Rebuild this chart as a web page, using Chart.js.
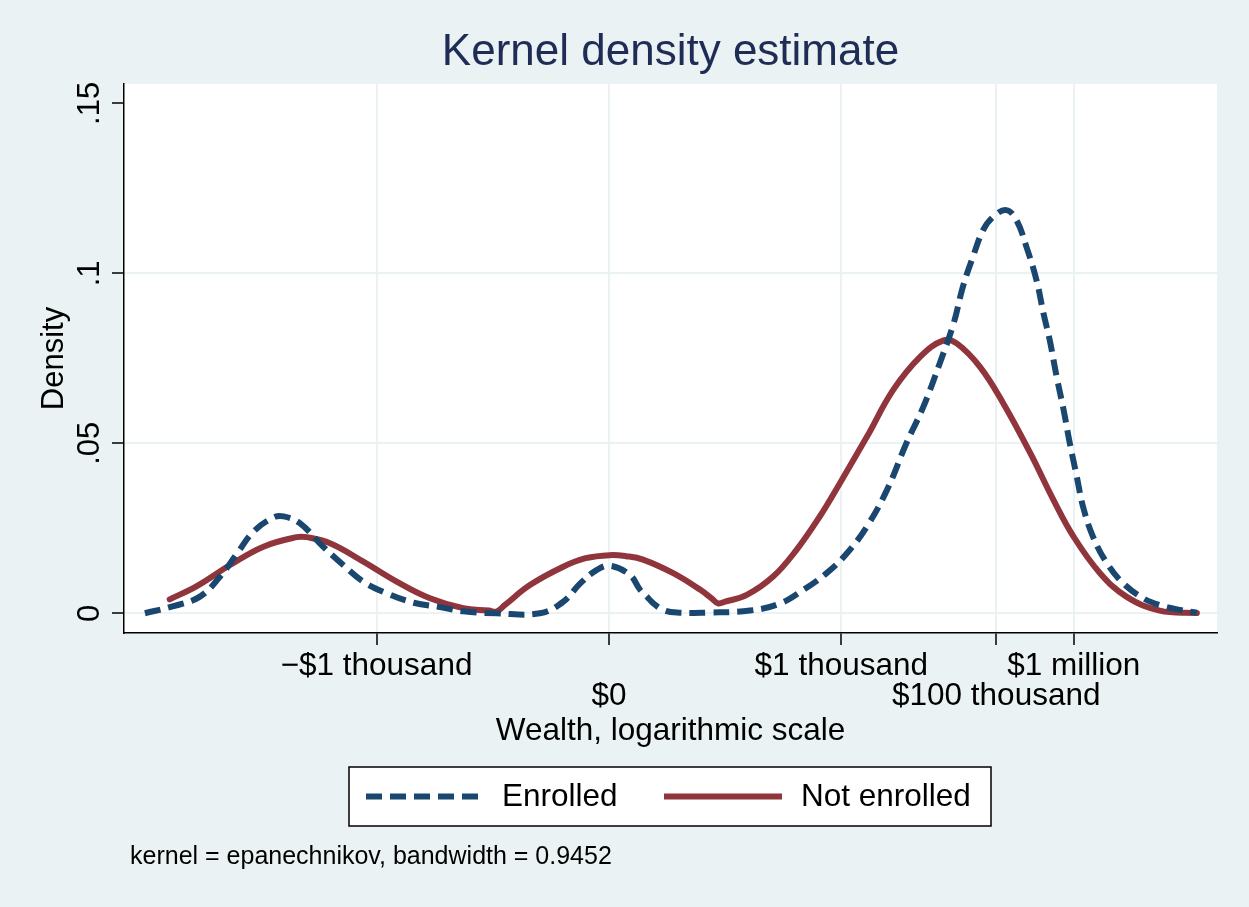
<!DOCTYPE html>
<html>
<head>
<meta charset="utf-8">
<script src="https://cdn.jsdelivr.net/npm/chart.js@4/dist/chart.umd.min.js"></script>
<style>
  html, body { margin: 0; padding: 0; background: #eaf2f3; }
  canvas { display: block; }
</style>
</head>
<body>
<canvas id="kd" width="1249" height="907"></canvas>
<script>
// Wealth on a signed log10 scale: -3 = -$1 thousand, 0 = $0, 3 = $1 thousand, ...
const wealthTicks = [-3, 0, 3, 5, 6];
const wealthTickLabels = ['\u2212$1 thousand', '$0', '$1 thousand', '$100 thousand', '$1 million'];
const densityTicks = [0, 0.05, 0.1, 0.15];
const densityTickLabels = ['0', '.05', '.1', '.15'];

// Kernel density, enrolled households
const enrolledX = [-5.99, -5.62, -5.28, -5.02, -4.80, -4.59, -4.33, -4.20, -3.99, -3.69,
  -3.43, -3.17, -2.87, -2.52, -2.18, -1.88, -1.45, -0.89, -0.59, -0.37,
  -0.16, 0.01, 0.27, 0.40, 0.49, 0.57, 0.70, 0.88, 1.26, 1.82,
  2.21, 2.51, 2.81, 3.07, 3.33, 3.59, 3.84, 4.06, 4.27, 4.45,
  4.57, 4.70, 4.83, 4.96, 5.13, 5.26, 5.39, 5.52, 5.61, 5.69,
  5.78, 5.87, 5.95, 6.04, 6.12, 6.25, 6.43, 6.64, 6.90, 7.11,
  7.37, 7.59];
const enrolledY = [0.0000, 0.0021, 0.0049, 0.0108, 0.0176, 0.0240, 0.0282, 0.0285, 0.0265, 0.0196,
  0.0142, 0.0093, 0.0059, 0.0031, 0.0018, 0.0006, 0.0000, 0.0000, 0.0034, 0.0088,
  0.0127, 0.0140, 0.0113, 0.0070, 0.0049, 0.0030, 0.0010, 0.0002, 0.0002, 0.0008,
  0.0029, 0.0069, 0.0118, 0.0176, 0.0255, 0.0363, 0.0500, 0.0608, 0.0735, 0.0853,
  0.0961, 0.1049, 0.1127, 0.1166, 0.1186, 0.1157, 0.1078, 0.0980, 0.0882, 0.0804,
  0.0696, 0.0598, 0.0500, 0.0402, 0.0314, 0.0225, 0.0147, 0.0088, 0.0044, 0.0024,
  0.0010, 0.0002];

// Kernel density, households not enrolled
const notEnrolledX = [-5.67, -5.32, -4.89, -4.46, -4.03, -3.90, -3.60, -3.17, -2.74, -2.31,
  -1.88, -1.55, -1.45, -1.35, -1.02, -0.59, -0.30, 0.01, 0.22, 0.44,
  0.83, 1.18, 1.33, 1.41, 1.50, 1.78, 2.12, 2.42, 2.72, 2.98,
  3.33, 3.67, 4.02, 4.32, 4.49, 4.79, 5.09, 5.44, 5.74, 6.00,
  6.34, 6.68, 7.11, 7.59];
const notEnrolledY = [0.0041, 0.0080, 0.0142, 0.0196, 0.0224, 0.0224, 0.0206, 0.0152, 0.0093, 0.0044,
  0.0015, 0.0008, 0.0005, 0.0023, 0.0083, 0.0137, 0.0162, 0.0171, 0.0168, 0.0158,
  0.0118, 0.0069, 0.0043, 0.0029, 0.0034, 0.0054, 0.0108, 0.0186, 0.0284, 0.0382,
  0.0519, 0.0657, 0.0755, 0.0803, 0.0794, 0.0725, 0.0618, 0.0471, 0.0333, 0.0225,
  0.0118, 0.0049, 0.0008, 0.0001];

const seriesNames = ['Enrolled', 'Not enrolled'];
const titleText = 'Kernel density estimate';
const xTitle = 'Wealth, logarithmic scale';
const yTitle = 'Density';
const noteText = 'kernel = epanechnikov, bandwidth = 0.9452';

const FONT = '"Liberation Sans", Arial, Helvetica, sans-serif';
const BG = '#eaf2f3';
const GRID = '#eaf2f3';
const NAVY = '#1a476f';
const MAROON = '#90353b';

const toPoints = (xs, ys) => xs.map((x, i) => ({ x: x, y: ys[i] }));

// Background, plot region and all free-standing text
const decorations = {
  id: 'decorations',
  beforeDraw(chart) {
    const { ctx, chartArea: a } = chart;
    ctx.save();
    ctx.fillStyle = BG;
    ctx.fillRect(0, 0, chart.width, chart.height);
    ctx.fillStyle = '#ffffff';
    ctx.fillRect(a.left, a.top, a.right - a.left, a.bottom - a.top);
    ctx.restore();
  },
  afterDraw(chart) {
    const { ctx, chartArea: a } = chart;
    const midX = (a.left + a.right) / 2;
    ctx.save();

    // title
    ctx.fillStyle = '#1f2c56';
    ctx.font = '44px ' + FONT;
    ctx.textAlign = 'center';
    ctx.textBaseline = 'alphabetic';
    ctx.fillText(titleText, midX, 65);

    // y tick labels, rotated
    const ys = chart.scales.y;
    ctx.fillStyle = '#000';
    ctx.font = '31px ' + FONT;
    ys.ticks.forEach((t, i) => {
      const py = ys.getPixelForValue(t.value);
      ctx.save();
      ctx.translate(99, py);
      ctx.rotate(-Math.PI / 2);
      ctx.textAlign = 'center';
      ctx.fillText(densityTickLabels[i], 0, 0);
      ctx.restore();
    });

    // y axis title
    ctx.font = '31px ' + FONT;
    ctx.save();
    ctx.translate(63, (a.top + a.bottom) / 2);
    ctx.rotate(-Math.PI / 2);
    ctx.textAlign = 'center';
    ctx.fillText(yTitle, 0, 0);
    ctx.restore();

    // x axis title
    ctx.font = '31.5px ' + FONT;
    ctx.textAlign = 'center';
    ctx.fillText(xTitle, midX, 740);

    // legend
    const lx = 349, ly = 767, lw = 642, lh = 59;
    ctx.fillStyle = '#ffffff';
    ctx.fillRect(lx, ly, lw, lh);
    ctx.strokeStyle = '#000';
    ctx.lineWidth = 1.5;
    ctx.strokeRect(lx, ly, lw, lh);
    const cy = ly + lh / 2;
    const entries = [
      { x0: 366, x1: 482, tx: 502 },
      { x0: 664, x1: 782, tx: 801 }
    ];
    chart.data.datasets.forEach((ds, i) => {
      const e = entries[i];
      ctx.beginPath();
      ctx.strokeStyle = ds.borderColor;
      ctx.lineWidth = ds.borderWidth;
      ctx.setLineDash(ds.borderDash || []);
      ctx.lineCap = 'butt';
      ctx.moveTo(e.x0, cy);
      ctx.lineTo(e.x1, cy);
      ctx.stroke();
      ctx.setLineDash([]);
      ctx.fillStyle = '#000';
      ctx.font = '31.5px ' + FONT;
      ctx.textAlign = 'left';
      ctx.textBaseline = 'middle';
      ctx.fillText(ds.label, e.tx, cy + 1);
    });

    // note
    ctx.font = '25px ' + FONT;
    ctx.textAlign = 'left';
    ctx.textBaseline = 'alphabetic';
    ctx.fillStyle = '#000';
    ctx.fillText(noteText, 130, 864);

    ctx.restore();
  }
};

new Chart(document.getElementById('kd'), {
  type: 'line',
  data: {
    datasets: [
      {
        label: seriesNames[0],
        data: toPoints(enrolledX, enrolledY),
        borderColor: NAVY,
        borderWidth: 6,
        borderDash: [16, 8],
        borderCapStyle: 'butt',
        pointRadius: 0,
        fill: false,
        tension: 0.4
      },
      {
        label: seriesNames[1],
        data: toPoints(notEnrolledX, notEnrolledY),
        borderColor: MAROON,
        borderWidth: 6,
        borderCapStyle: 'round',
        pointRadius: 0,
        fill: false,
        tension: 0.4
      }
    ]
  },
  options: {
    responsive: false,
    animation: false,
    events: [],
    layout: { padding: { left: 0, top: 84, right: 32, bottom: 154 } },
    plugins: { legend: { display: false }, title: { display: false }, tooltip: { enabled: false } },
    scales: {
      x: {
        type: 'linear',
        min: -6.26,
        max: 7.85,
        afterBuildTicks: s => { s.ticks = wealthTicks.map(v => ({ value: v })); },
        afterFit: s => { s.height = 120; },
        ticks: {
          autoSkip: false,
          maxRotation: 0,
          minRotation: 0,
          padding: 6,
          color: '#000',
          font: { family: FONT, size: 31.5, lineHeight: 0.95 },
          callback: (v, i) => (i % 2 === 1 ? ['', wealthTickLabels[i]] : wealthTickLabels[i])
        },
        grid: { color: GRID, lineWidth: 2, tickColor: '#000', tickLength: 12, tickWidth: 1.5 },
        border: { color: '#000', width: 1.5 }
      },
      y: {
        type: 'linear',
        min: -0.0058,
        max: 0.1557,
        afterBuildTicks: s => { s.ticks = densityTicks.map(v => ({ value: v })); },
        afterFit: s => { s.width = 124; },
        ticks: { display: false },
        grid: {
          color: c => (c.tick && c.tick.value === densityTicks[densityTicks.length - 1] ? 'rgba(0,0,0,0)' : GRID),
          lineWidth: 2,
          tickColor: '#000',
          tickLength: 12,
          tickWidth: 1.5
        },
        border: { color: '#000', width: 1.5 }
      }
    }
  },
  plugins: [decorations]
});
</script>
</body>
</html>
